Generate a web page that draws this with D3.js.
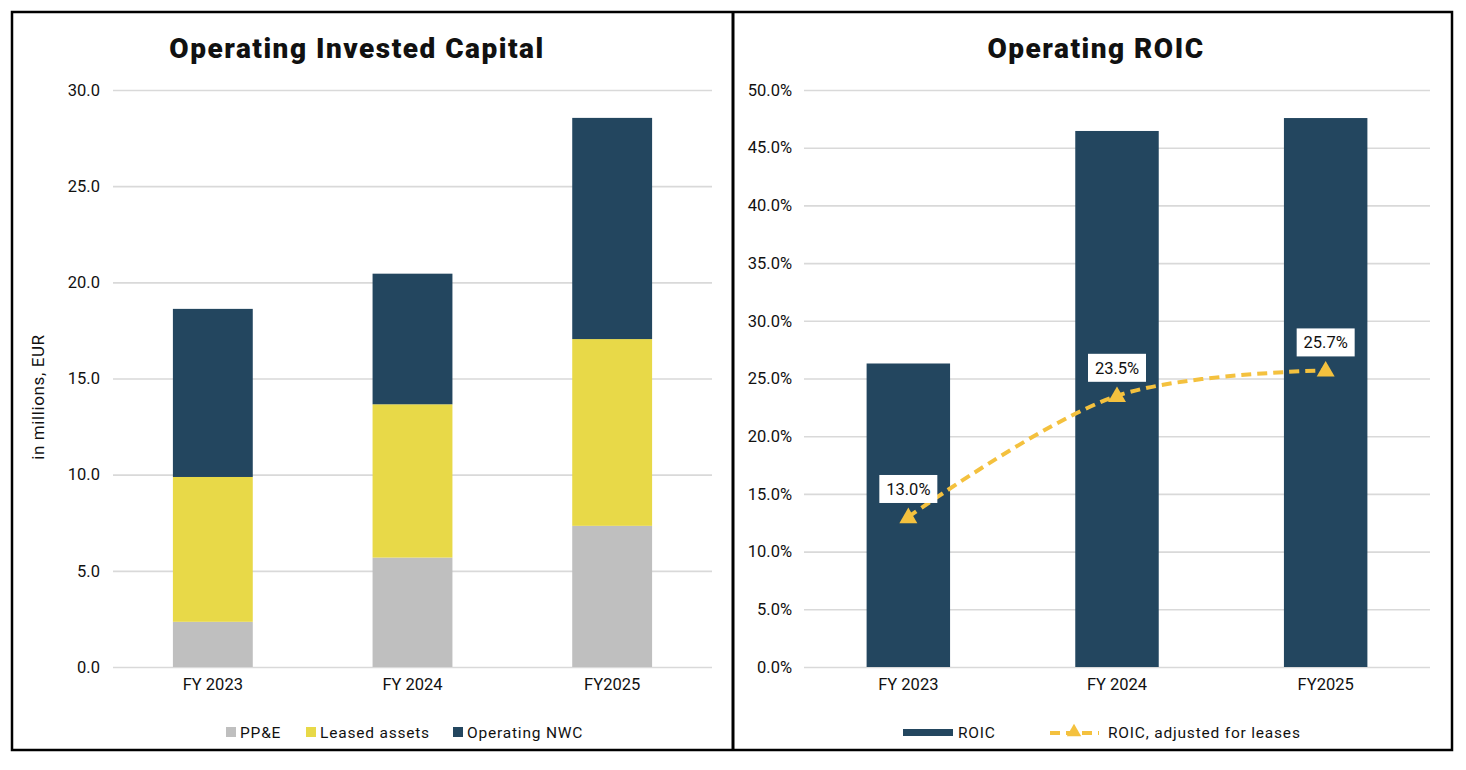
<!DOCTYPE html>
<html>
<head>
<meta charset="utf-8">
<script src="https://cdn.jsdelivr.net/npm/d3@7"></script>
<style>
  body { margin: 0; background: #fff; }
  text { font-family: Roboto, "Noto Sans", sans-serif; fill: #111; }
</style>
</head>
<body>
<div id="chart"></div>
<script>
// data
const years = ["FY 2023", "FY 2024", "FY2025"];
const ppe = [2.35, 5.69, 7.34];
const leased = [7.53, 7.97, 9.71];
const nwc = [8.74, 6.79, 11.5];
const roic = [0.263, 0.4645, 0.4757];
const roicAdj = [0.130, 0.235, 0.257];
const leftTicks = [0, 5, 10, 15, 20, 25, 30];
const rightTicks = [0, 0.05, 0.1, 0.15, 0.2, 0.25, 0.3, 0.35, 0.4, 0.45, 0.5];

const colors = { ppe: "#BFBFBF", leased: "#E8D948", nwc: "#23465F", line: "#F4C13E" };
const gridColor = "#D9D9D9";

const svg = d3.select("#chart")
  .append("svg")
  .attr("width", 1466)
  .attr("height", 770);

// panel frames
svg.append("rect")
  .attr("x", 12).attr("y", 12)
  .attr("width", 1440).attr("height", 738)
  .attr("fill", "none")
  .attr("stroke", "#000")
  .attr("stroke-width", 2.5);

svg.append("line")
  .attr("x1", 733).attr("x2", 733)
  .attr("y1", 12).attr("y2", 750)
  .attr("stroke", "#000")
  .attr("stroke-width", 3);

function styleAxis(g) {
  g.select(".domain").remove();
  g.selectAll("text")
    .attr("font-size", "16.5px")
    .attr("fill", "#111");
}

function drawGrid(yScale, x0, x1, ticks) {
  svg.append("g")
    .attr("transform", `translate(${x0},0)`)
    .call(d3.axisLeft(yScale).tickValues(ticks).tickSize(-(x1 - x0)).tickFormat(""))
    .call(g => g.select(".domain").remove())
    .call(g => g.selectAll("line").attr("stroke", gridColor).attr("stroke-width", 1.6));
}

// ---------- left chart: Operating Invested Capital ----------
const xLeft = d3.scaleBand()
  .domain(years)
  .range([113, 712])
  .paddingInner(0.6)
  .paddingOuter(0.3);

const yLeft = d3.scaleLinear()
  .domain([0, 30])
  .range([667, 90]);

svg.append("text")
  .attr("x", 357)
  .attr("y", 58)
  .attr("text-anchor", "middle")
  .attr("font-size", "28px")
  .attr("font-weight", 900)
  .attr("letter-spacing", "1.5px")
  .text("Operating Invested Capital");

drawGrid(yLeft, 113, 712, leftTicks);

const tableLeft = years.map((y, i) => ({ year: y, ppe: ppe[i], leased: leased[i], nwc: nwc[i] }));
const stacked = d3.stack().keys(["ppe", "leased", "nwc"])(tableLeft);

svg.append("g")
  .selectAll("g")
  .data(stacked)
  .join("g")
  .attr("fill", d => colors[d.key])
  .selectAll("rect")
  .data(d => d)
  .join("rect")
  .attr("x", d => xLeft(d.data.year))
  .attr("width", xLeft.bandwidth())
  .attr("y", d => yLeft(d[1]))
  .attr("height", d => yLeft(d[0]) - yLeft(d[1]));

svg.append("g")
  .attr("transform", "translate(113,0)")
  .call(d3.axisLeft(yLeft).tickValues(leftTicks).tickSize(0).tickPadding(13).tickFormat(d3.format(".1f")))
  .call(styleAxis);

svg.append("g")
  .attr("transform", "translate(0,667)")
  .call(d3.axisBottom(xLeft).tickSize(0).tickPadding(11))
  .call(styleAxis);

svg.append("text")
  .attr("transform", "translate(44,397) rotate(-90)")
  .attr("text-anchor", "middle")
  .attr("font-size", "17px")
  .attr("letter-spacing", "0.6px")
  .text("in millions, EUR");

// left legend
const leftLegend = [
  { key: "ppe", label: "PP&E", x: 226 },
  { key: "leased", label: "Leased assets", x: 306 },
  { key: "nwc", label: "Operating NWC", x: 453 }
];

const legL = svg.append("g")
  .selectAll("g")
  .data(leftLegend)
  .join("g")
  .attr("transform", d => `translate(${d.x},732)`);

legL.append("rect")
  .attr("y", -5)
  .attr("width", 10)
  .attr("height", 10)
  .attr("fill", d => colors[d.key]);

legL.append("text")
  .attr("x", 14)
  .attr("dy", "0.36em")
  .attr("font-size", "15.5px")
  .attr("letter-spacing", "0.8px")
  .text(d => d.label);

// ---------- right chart: Operating ROIC ----------
const xRight = d3.scaleBand()
  .domain(years)
  .range([804, 1430])
  .paddingInner(0.6)
  .paddingOuter(0.3);

const yRight = d3.scaleLinear()
  .domain([0, 0.5])
  .range([667, 90]);

svg.append("text")
  .attr("x", 1096)
  .attr("y", 58)
  .attr("text-anchor", "middle")
  .attr("font-size", "28px")
  .attr("font-weight", 900)
  .attr("letter-spacing", "1.5px")
  .text("Operating ROIC");

drawGrid(yRight, 804, 1430, rightTicks);

svg.append("g")
  .selectAll("rect")
  .data(roic)
  .join("rect")
  .attr("x", (d, i) => xRight(years[i]))
  .attr("width", xRight.bandwidth())
  .attr("y", d => yRight(d))
  .attr("height", d => yRight(0) - yRight(d))
  .attr("fill", colors.nwc);

svg.append("g")
  .attr("transform", "translate(804,0)")
  .call(d3.axisLeft(yRight).tickValues(rightTicks).tickSize(0).tickPadding(12).tickFormat(d3.format(".1%")))
  .call(styleAxis);

svg.append("g")
  .attr("transform", "translate(0,667)")
  .call(d3.axisBottom(xRight).tickSize(0).tickPadding(11))
  .call(styleAxis);

// smoothed dashed line
const cx = (d, i) => xRight(years[i]) + xRight.bandwidth() / 2;

const lineGen = d3.line()
  .x(cx)
  .y(d => yRight(d))
  .curve(d3.curveCatmullRom.alpha(0.5));

svg.append("path")
  .datum(roicAdj)
  .attr("d", lineGen)
  .attr("fill", "none")
  .attr("stroke", colors.line)
  .attr("stroke-width", 4)
  .attr("stroke-dasharray", "10,6");

const tri = d3.symbol().type(d3.symbolTriangle).size(140);

svg.append("g")
  .selectAll("path")
  .data(roicAdj)
  .join("path")
  .attr("d", tri)
  .attr("transform", (d, i) => `translate(${cx(d, i)},${yRight(d) + 1})`)
  .attr("fill", colors.line);

// data labels
const labels = svg.append("g")
  .selectAll("g")
  .data(roicAdj)
  .join("g")
  .attr("transform", (d, i) => `translate(${cx(d, i)},${yRight(d) - 28})`);

labels.append("rect")
  .attr("x", -29)
  .attr("y", -14)
  .attr("width", 58)
  .attr("height", 28)
  .attr("fill", "#fff");

labels.append("text")
  .attr("text-anchor", "middle")
  .attr("dy", "0.36em")
  .attr("font-size", "16.5px")
  .text(d => d3.format(".1%")(d));

// right legend
svg.append("rect")
  .attr("x", 903)
  .attr("y", 729)
  .attr("width", 50)
  .attr("height", 7)
  .attr("fill", colors.nwc);

svg.append("text")
  .attr("x", 958)
  .attr("y", 732)
  .attr("dy", "0.36em")
  .attr("font-size", "15.5px")
  .attr("letter-spacing", "0.8px")
  .text("ROIC");

svg.append("line")
  .attr("x1", 1050).attr("x2", 1099)
  .attr("y1", 733).attr("y2", 733)
  .attr("stroke", colors.line)
  .attr("stroke-width", 4)
  .attr("stroke-dasharray", "10,6");

svg.append("path")
  .attr("d", d3.symbol().type(d3.symbolTriangle).size(90))
  .attr("transform", "translate(1074,732)")
  .attr("fill", colors.line);

svg.append("text")
  .attr("x", 1108)
  .attr("y", 732)
  .attr("dy", "0.36em")
  .attr("font-size", "15.5px")
  .attr("letter-spacing", "0.8px")
  .text("ROIC, adjusted for leases");
</script>
</body>
</html>
